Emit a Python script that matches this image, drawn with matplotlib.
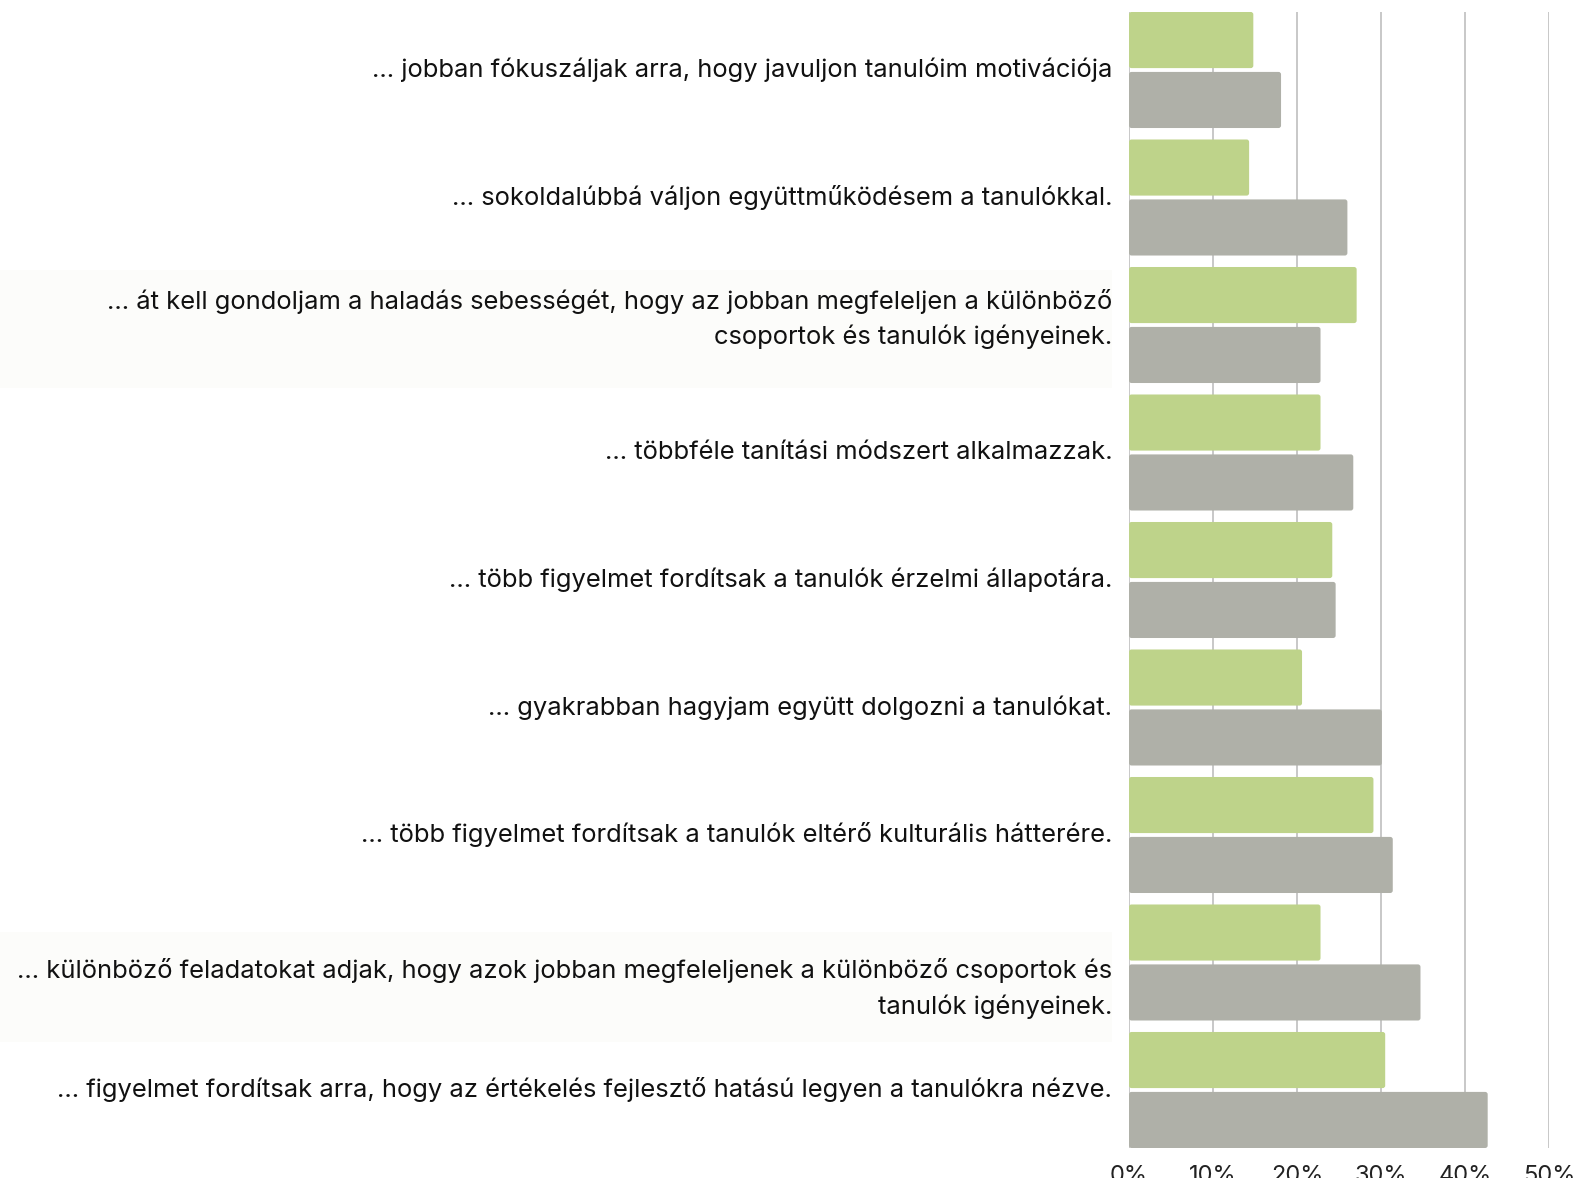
import matplotlib
matplotlib.use("Agg")
import matplotlib.pyplot as plt
from matplotlib.patches import FancyBboxPatch, Rectangle
import matplotlib.transforms as mtransforms

categories = [
    "... jobban fókuszáljak arra, hogy javuljon tanulóim motivációja",
    "... sokoldalúbbá váljon együttműködésem a tanulókkal.",
    "... át kell gondoljam a haladás sebességét, hogy az jobban megfeleljen a különböző\ncsoportok és tanulók igényeinek.",
    "... többféle tanítási módszert alkalmazzak.",
    "... több figyelmet fordítsak a tanulók érzelmi állapotára.",
    "... gyakrabban hagyjam együtt dolgozni a tanulókat.",
    "... több figyelmet fordítsak a tanulók eltérő kulturális hátterére.",
    "... különböző feladatokat adjak, hogy azok jobban megfeleljenek a különböző csoportok és\ntanulók igényeinek.",
    "... figyelmet fordítsak arra, hogy az értékelés fejlesztő hatású legyen a tanulókra nézve.",
]
green_values = [14.8, 14.3, 27.1, 22.8, 24.2, 20.6, 29.1, 22.8, 30.5]
gray_values = [18.1, 26.0, 22.8, 26.7, 24.6, 30.1, 31.4, 34.7, 42.7]
xticks = [0, 10, 20, 30, 40, 50]
xtick_labels = ["0%", "10%", "20%", "30%", "40%", "50%"]

GREEN = "#bed38a"
GRAY = "#afb0a8"
FONT = "Inter"

W, H = 1574, 1178
fig = plt.figure(figsize=(W / 100, H / 100), dpi=100)
left_px, right_px, top_px, bottom_px = 1129, 1549, 12, 1148
ax = fig.add_axes([left_px / W, 1 - bottom_px / H, (right_px - left_px) / W, (bottom_px - top_px) / H])

# faint label backgrounds
for (y0, y1) in [(270, 388), (932, 1042)]:
    fig.patches.append(Rectangle((0, 1 - y1 / H), 1112 / W, (y1 - y0) / H,
                                 transform=fig.transFigure, facecolor="#fcfcfa",
                                 edgecolor="none", zorder=-5))

n = len(categories)
pos = list(range(n))
h = 0.44
off = 0.235
bars_g = ax.barh([p - off for p in pos], green_values, height=h, color=GREEN, zorder=2)
bars_a = ax.barh([p + off for p in pos], gray_values, height=h, color=GRAY, zorder=2)

aspect = ((n - 1 + 2 * 0.455) / (bottom_px - top_px)) / (50 / (right_px - left_px))
for bar in list(bars_g) + list(bars_a):
    x, y = bar.get_x(), bar.get_y()
    w, hh = bar.get_width(), bar.get_height()
    fc = bar.get_facecolor()
    bar.set_visible(False)
    fb = FancyBboxPatch((x, y), w, hh, boxstyle="round,pad=0,rounding_size=0.3",
                        mutation_aspect=aspect, facecolor=fc, edgecolor="none", zorder=2)
    ax.add_patch(fb)

ax.set_xlim(0, 50)
ax.set_ylim(n - 1 + 0.455, -0.455)
ax.set_xticks(xticks)
ax.set_xticklabels(xtick_labels, fontsize=17, family=FONT, color="#222222")
ax.tick_params(axis="x", length=0, pad=12)
ax.set_yticks([])
ax.grid(axis="x", color="#c8c8c8", linewidth=1.4, zorder=0)
ax.set_axisbelow(True)
for s in ax.spines.values():
    s.set_visible(False)

# category labels
text_offsets_px = {2: -6, 7: 26}
for i, lab in enumerate(categories):
    dy = -text_offsets_px.get(i, 0) / 100
    tr = ax.get_yaxis_transform() + mtransforms.ScaledTranslation(0, dy, fig.dpi_scale_trans)
    ax.text(-0.04, i, lab, transform=tr,
            ha="right", va="center", fontsize=18.4, family=FONT, color="#111111",
            multialignment="right", linespacing=1.55, zorder=5)

fig.savefig("out.png", dpi=100)
